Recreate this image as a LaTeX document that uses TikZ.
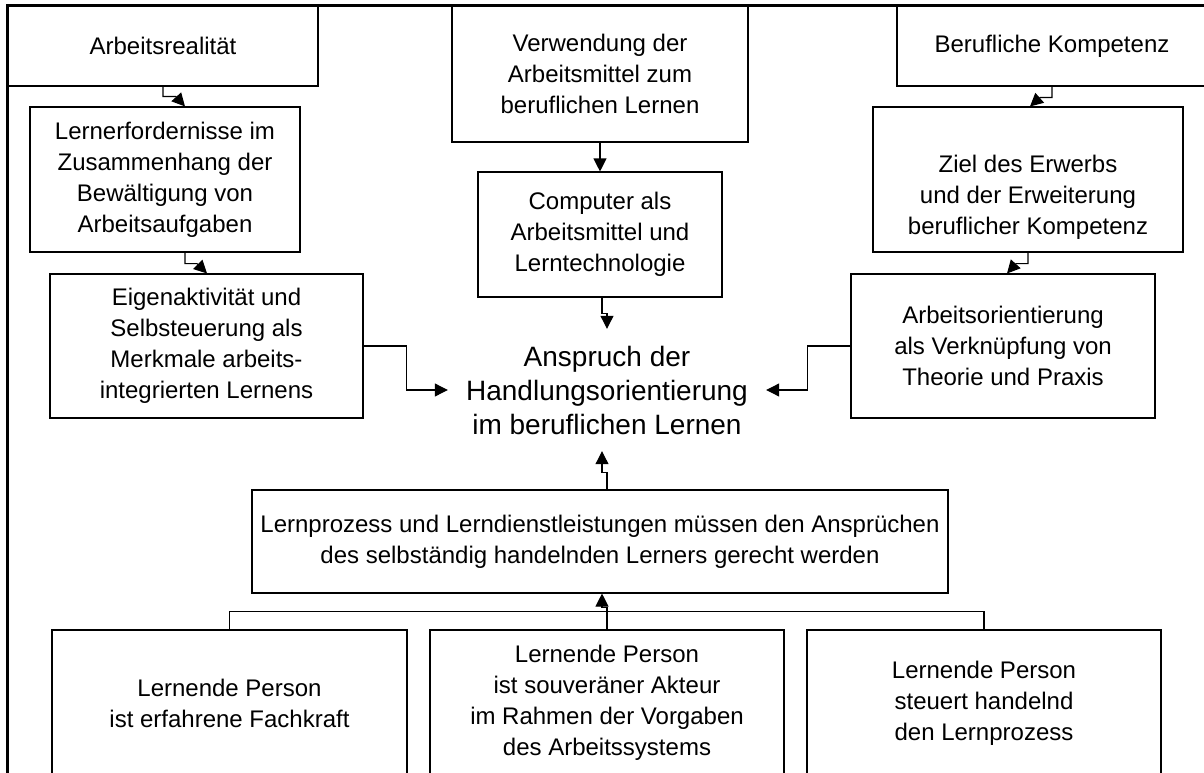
\documentclass[tikz,border=0pt]{standalone}
\usepackage{fontspec}
\setmainfont{Liberation Sans}
\usetikzlibrary{arrows.meta,calc}
\begin{document}
\begin{tikzpicture}[x=1pt,y=-1pt,
  box/.style={draw=black,line width=1.1pt,rectangle,inner sep=0pt,align=center,font=\fontsize{24}{31}\selectfont},
  txt/.style={inner sep=0pt,align=center,font=\fontsize{24}{31}\selectfont},
  conn/.style={draw=black,line width=1.1pt},
  arr/.style={conn,-{Triangle[length=13pt,width=13pt]}},
  frame/.style={draw=black,line width=3pt}
]
\useasboundingbox (0,0) rectangle (1204,773);
\clip (0,0) rectangle (1204,773);
\fill[white] (0,0) rectangle (1204,773);

% top row and columns
\node[box,minimum width=310pt,minimum height=80pt] (arb) at (163,46) {Arbeitsrealit\"at};
\node[box,minimum width=270pt,minimum height=145pt] (lern) at (165,179.5) {Lernerfordernisse im\\Zusammenhang der\\Bew\"altigung von\\Arbeitsaufgaben};
\node[box,minimum width=313pt,minimum height=144pt] (eigen) at (206.5,346) {Eigenaktivit\"at und\\Selbsteuerung als\\Merkmale arbeits-\\integrierten Lernens};

\node[box,minimum width=296pt,minimum height=136pt] (verw) at (600,74) {Verwendung der\\Arbeitsmittel zum\\beruflichen Lernen};
\node[box,minimum width=244pt,minimum height=125pt] (comp) at (600,234.5) {Computer als\\Arbeitsmittel und\\Lerntechnologie};

\node[box,minimum width=310pt,minimum height=80pt] (beruf) at (1052,46) {Berufliche Kompetenz};
\node[box,minimum width=310pt,minimum height=145pt] (ziel) at (1028,179.5) {};
\node[txt] (zielt) at ($(ziel.center)+(0,18)$) {Ziel des Erwerbs\\und der Erweiterung\\beruflicher Kompetenz};
\node[box,minimum width=304pt,minimum height=144pt] (arbo) at (1003,346) {Arbeitsorientierung\\als Verkn\"upfung von\\Theorie und Praxis};

\node[inner sep=0pt,align=center,minimum width=318pt,minimum height=122pt,font=\fontsize{28}{34}\selectfont] (ctr) at (607,390) {Anspruch der\\Handlungsorientierung\\im beruflichen Lernen};

\node[box,minimum width=696pt,minimum height=103pt] (lp) at (600,541.5) {Lernprozess und Lerndienstleistungen m\"ussen den Anspr\"uchen\\des selbst\"andig handelnden Lerners gerecht werden};

\node[box,minimum width=355pt,minimum height=146pt] (b1) at (229.5,703) {Lernende Person\\ist erfahrene Fachkraft};
\node[box,minimum width=354pt,minimum height=146pt] (b2) at (607,703) {Lernende Person\\ist souver\"aner Akteur\\im Rahmen der Vorgaben\\des Arbeitssystems};
\node[box,minimum width=354pt,minimum height=146pt] (b3) at (984,703) {Lernende Person\\steuert handelnd\\den Lernprozess};

% connectors
\draw[arr] (arb.south) -- ++(0,10) -- ++(13,0) -- ($(lern.north)+(20,0)$);
\draw[arr] ($(lern.south)+(20,0)$) -- ++(0,11) -- ++(12,0) -- ($(eigen.north)+(0.5,0)$);
\draw[arr] (beruf.south) -- ++(0,11) -- ++(-12,0) -- ($(ziel.north)+(2,0)$);
\draw[arr] (ziel.south) -- ++(0,11) -- ++(-12,0) -- ($(arbo.north)+(4,0)$);
\draw[arr] (verw.south) -- (comp.north);
\draw[arr] ($(comp.south)+(2,0)$) -- ++(0,16) -| (ctr.north);
\draw[arr] (eigen.east) -- ++(43,0) |- (ctr.west);
\draw[arr] (arbo.west) -- ++(-43,0) |- (ctr.east);
\draw[arr] ($(lp.north)+(7,0)$) -- ++(0,-17) -| ($(ctr.south)+(-5,0)$);
\draw[conn] (b1.north) -- ++(0,-18) -| (b3.north);
\draw[arr] (b2.north) -- ++(0,-22) -| ($(lp.south)+(2,0)$);

% outer frame
\draw[frame] (7,773) -- (7,6) -- (1204,6);
\end{tikzpicture}
\end{document}
